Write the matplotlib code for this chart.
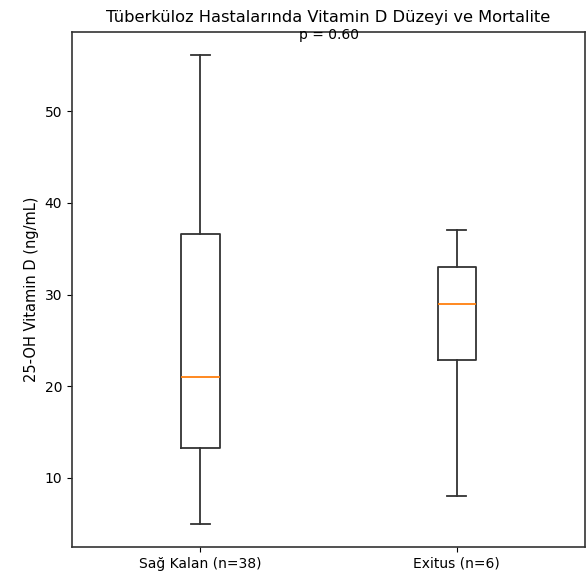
import matplotlib
matplotlib.use("Agg")
import matplotlib.pyplot as plt

groups = ["Sağ Kalan (n=38)", "Exitus (n=6)"]
whislo = [5.0, 8.0]
q1 = [13.2, 22.8]
med = [21.0, 29.0]
q3 = [36.6, 33.0]
whishi = [56.1, 37.0]
p_text = "p = 0.60"

stats = []
for i, g in enumerate(groups):
    stats.append(dict(label=g, whislo=whislo[i], q1=q1[i], med=med[i],
                      q3=q3[i], whishi=whishi[i], fliers=[]))

lw = 1.3
fig = plt.figure(figsize=(5.87, 5.75), dpi=100)
ax = fig.add_axes([0.1227, 0.0487, 0.874, 0.8957])
ax.bxp(stats, positions=[1, 2], widths=0.15, showfliers=False,
       boxprops=dict(linewidth=lw, color="#333333"),
       whiskerprops=dict(linewidth=lw, color="#333333"),
       capprops=dict(linewidth=lw, color="#333333"),
       medianprops=dict(linewidth=lw, color="#ff7f0e"))
ax.set_xlim(0.5, 2.5)
for s in ax.spines.values():
    s.set_linewidth(1.2)
    s.set_color("#333333")
ax.set_title("Tüberküloz Hastalarında Vitamin D Düzeyi ve Mortalite", fontsize=11.7, pad=7)
ax.set_ylabel("25-OH Vitamin D (ng/mL)", fontsize=10.5)
ax.tick_params(labelsize=10)
ax.text(0.5, 0.995, p_text, transform=ax.transAxes, ha="center", va="center", fontsize=10)

fig.savefig("out.png", dpi=100)
